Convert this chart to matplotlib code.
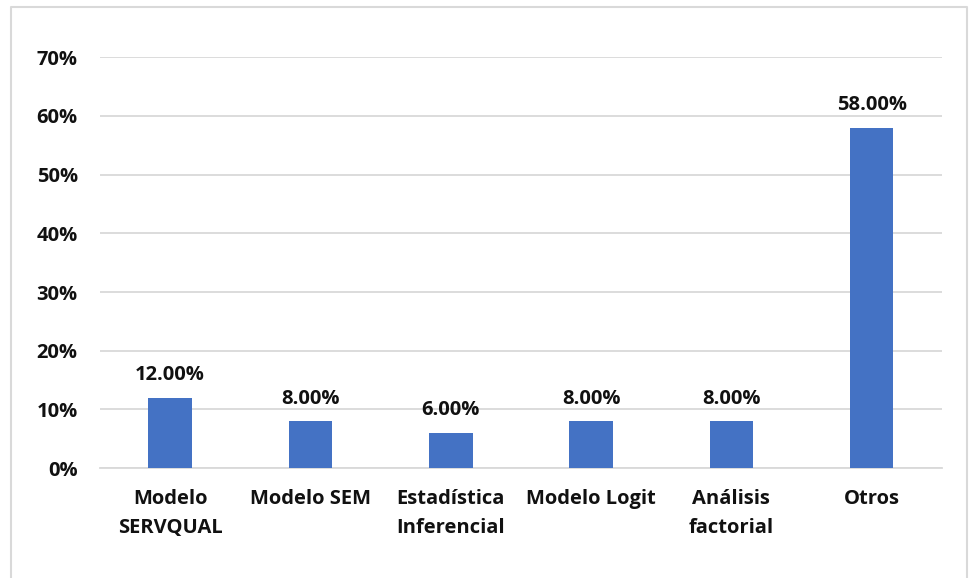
import matplotlib.pyplot as plt
from matplotlib.lines import Line2D
from matplotlib.ticker import PercentFormatter

categories = ['Modelo\nSERVQUAL', 'Modelo SEM', 'Estadística\nInferencial',
              'Modelo Logit', 'Análisis\nfactorial', 'Otros']
shares = [0.12, 0.08, 0.06, 0.08, 0.08, 0.58]

BAR_COLOR = '#4472C4'
GRID_COLOR = '#D9D9D9'
FS = 14.5

plt.rcParams['font.family'] = ['Open Sans', 'DejaVu Sans']
plt.rcParams['font.weight'] = 'bold'

fig = plt.figure(figsize=(9.71, 5.78), dpi=100)
ax = fig.add_axes([0.103, 0.190, 0.867, 0.711])

x = list(range(len(categories)))
bars = ax.bar(x, shares, width=0.31, color=BAR_COLOR, zorder=3)

for rect, val in zip(bars, shares):
    ax.annotate(f'{val * 100:.2f}%', (rect.get_x() + rect.get_width() / 2, val),
                xytext=(0, 9), textcoords='offset points', ha='center', va='bottom',
                fontsize=FS, fontweight='bold', color='#111111')

ax.set_xlim(-0.5, len(categories) - 0.5)
ax.set_ylim(0, 0.70)
ax.set_yticks([i / 10 for i in range(8)])
ax.yaxis.set_major_formatter(PercentFormatter(1.0, decimals=0))
ax.set_xticks(x)
ax.set_xticklabels(categories, linespacing=1.6, fontweight='bold')
ax.grid(axis='y', color=GRID_COLOR, linewidth=1.3, zorder=0)
for side in ['top', 'right', 'left']:
    ax.spines[side].set_visible(False)
ax.spines['bottom'].set_color(GRID_COLOR)
ax.spines['bottom'].set_linewidth(1.3)
ax.tick_params(axis='both', length=0, labelsize=FS, colors='#111111')
for lbl in ax.get_yticklabels():
    lbl.set_fontweight('bold')
ax.tick_params(axis='y', pad=16)
ax.tick_params(axis='x', pad=15)

# chart frame (left, top, right edges visible)
fx = [10.5 / 971, 10.5 / 971, 966.5 / 971, 966.5 / 971]
fy = [0.0, 1 - 6.5 / 578, 1 - 6.5 / 578, 0.0]
fig.add_artist(Line2D(fx, fy, transform=fig.transFigure, color=GRID_COLOR, linewidth=1.5))

plt.savefig('out.png', dpi=100)
